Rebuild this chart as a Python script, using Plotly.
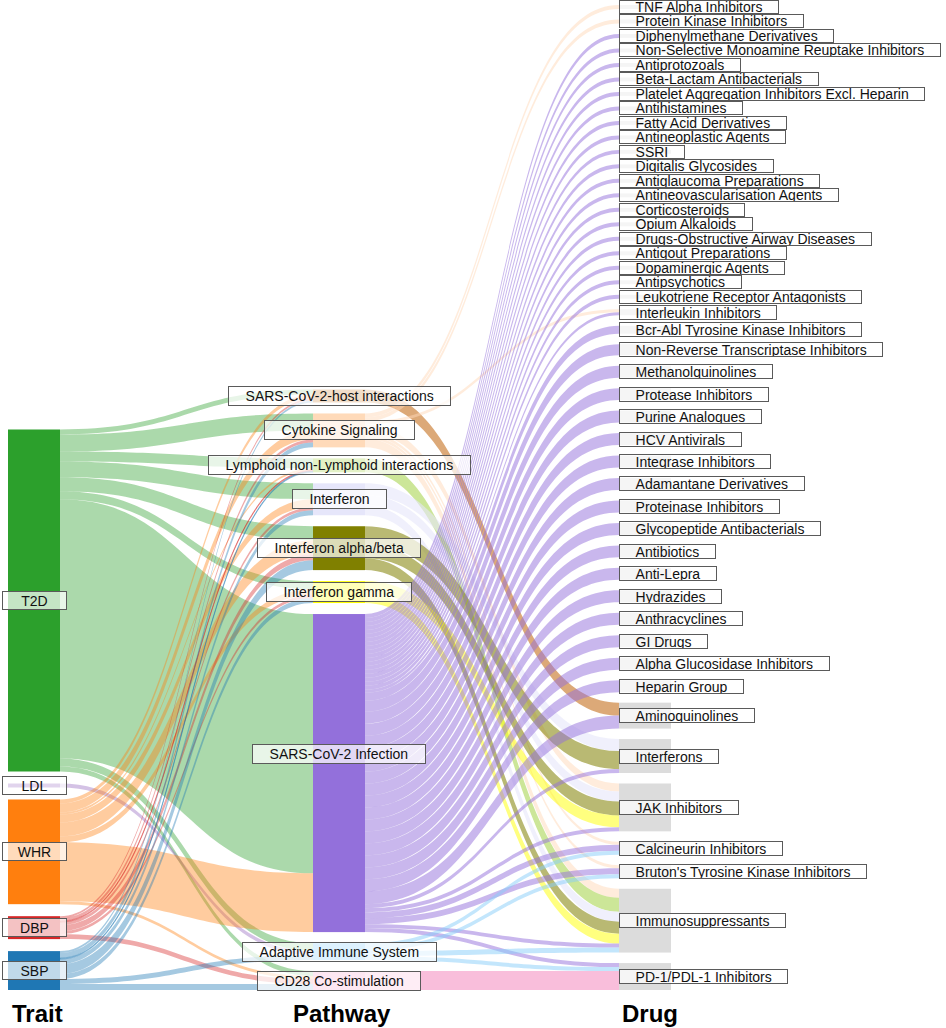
import plotly.graph_objects as go

# ---------------- data ----------------
traits = ["T2D", "LDL", "WHR", "DBP", "SBP"]
trait_colors = ["#2ca02c", "#9467bd", "#ff7f0e", "#d62728", "#1f77b4"]

pathways = [
    "SARS-CoV-2-host interactions",
    "Cytokine Signaling",
    "Lymphoid non-Lymphoid interactions",
    "Interferon",
    "Interferon alpha/beta",
    "Interferon gamma",
    "SARS-CoV-2 Infection",
    "Adaptive Immune System",
    "CD28 Co-stimulation",
]
pathway_colors = ["#cd853f", "#ffdab9", "#9acd32", "#e6e6fa", "#808000",
                  "#ffff00", "#9370db", "#87cefa", "#f7a8cf"]
pathway_link_alpha = [0.7, 0.5, 0.5, 0.6, 0.55, 0.5, 0.5, 0.5, 0.75]

drugs = [
    "TNF Alpha Inhibitors", "Protein Kinase Inhibitors", "Diphenylmethane Derivatives",
    "Non-Selective Monoamine Reuptake Inhibitors", "Antiprotozoals", "Beta-Lactam Antibacterials",
    "Platelet Aggregation Inhibitors Excl. Heparin", "Antihistamines", "Fatty Acid Derivatives",
    "Antineoplastic Agents", "SSRI", "Digitalis Glycosides", "Antiglaucoma Preparations",
    "Antineovascularisation Agents", "Corticosteroids", "Opium Alkaloids",
    "Drugs-Obstructive Airway Diseases", "Antigout Preparations", "Dopaminergic Agents",
    "Antipsychotics", "Leukotriene Receptor Antagonists", "Interleukin Inhibitors",
    "Bcr-Abl Tyrosine Kinase Inhibitors", "Non-Reverse Transcriptase Inhibitors",
    "Methanolquinolines", "Protease Inhibitors", "Purine Analogues", "HCV Antivirals",
    "Integrase Inhibitors", "Adamantane Derivatives", "Proteinase Inhibitors",
    "Glycopeptide Antibacterials", "Antibiotics", "Anti-Lepra", "Hydrazides", "Anthracyclines",
    "GI Drugs", "Alpha Glucosidase Inhibitors", "Heparin Group", "Aminoquinolines",
    "Interferons", "JAK Inhibitors", "Calcineurin Inhibitors",
    "Bruton's Tyrosine Kinase Inhibitors", "Immunosuppressants", "PD-1/PDL-1 Inhibitors",
]
drug_color = "#dcdcdc"

# trait -> pathway flows (same order as `pathways`)
t2d_flows = [5, 17, 10, 16, 14, 8, 260, 8, 5]
ldl_flows = [0, 0, 0, 0, 0, 0, 0, 4, 0]
whr_flows = [4, 9, 2, 8, 14, 6, 59, 0, 3]
dbp_flows = [2, 3, 1, 3, 6, 3, 0, 0, 5]
sbp_flows = [2, 5, 1, 5, 10, 5, 0, 5, 6]
trait_flows = [t2d_flows, ldl_flows, whr_flows, dbp_flows, sbp_flows]

# pathway -> drug flows
host_flows = {"Aminoquinolines": 13}
cytokine_flows = {"TNF Alpha Inhibitors": 4, "Protein Kinase Inhibitors": 4,
                  "Interleukin Inhibitors": 3, "JAK Inhibitors": 8,
                  "Calcineurin Inhibitors": 3, "Bruton's Tyrosine Kinase Inhibitors": 3,
                  "Immunosuppressants": 9}
lymphoid_flows = {"Immunosuppressants": 14}
interferon_flows = {"Interferons": 12, "JAK Inhibitors": 10, "Immunosuppressants": 10}
ifn_ab_flows = {"Interferons": 18, "JAK Inhibitors": 14, "Immunosuppressants": 12}
ifn_g_flows = {"JAK Inhibitors": 12, "Immunosuppressants": 10}
sars_infection_flows = {
    "Diphenylmethane Derivatives": 4, "Non-Selective Monoamine Reuptake Inhibitors": 4,
    "Antiprotozoals": 4, "Beta-Lactam Antibacterials": 4,
    "Platelet Aggregation Inhibitors Excl. Heparin": 4, "Antihistamines": 4,
    "Fatty Acid Derivatives": 4, "Antineoplastic Agents": 4, "SSRI": 4,
    "Digitalis Glycosides": 4, "Antiglaucoma Preparations": 4,
    "Antineovascularisation Agents": 4, "Corticosteroids": 4, "Opium Alkaloids": 4,
    "Drugs-Obstructive Airway Diseases": 4, "Antigout Preparations": 4,
    "Dopaminergic Agents": 4, "Antipsychotics": 4, "Leukotriene Receptor Antagonists": 4,
    "Interleukin Inhibitors": 3, "Bcr-Abl Tyrosine Kinase Inhibitors": 8,
    "Non-Reverse Transcriptase Inhibitors": 11, "Methanolquinolines": 12,
    "Protease Inhibitors": 12, "Purine Analogues": 12, "HCV Antivirals": 12,
    "Integrase Inhibitors": 12, "Adamantane Derivatives": 12, "Proteinase Inhibitors": 12,
    "Glycopeptide Antibacterials": 12, "Antibiotics": 12, "Anti-Lepra": 12,
    "Hydrazides": 12, "Anthracyclines": 12, "GI Drugs": 12,
    "Alpha Glucosidase Inhibitors": 12, "Heparin Group": 12, "Aminoquinolines": 13,
    "Interferons": 4, "JAK Inhibitors": 4, "Calcineurin Inhibitors": 6,
    "Bruton's Tyrosine Kinase Inhibitors": 6, "Immunosuppressants": 4,
    "PD-1/PDL-1 Inhibitors": 4,
}
adaptive_flows = {"Calcineurin Inhibitors": 4, "Bruton's Tyrosine Kinase Inhibitors": 4,
                  "Immunosuppressants": 5, "PD-1/PDL-1 Inhibitors": 4}
cd28_flows = {"PD-1/PDL-1 Inhibitors": 19}
pathway_flows = [host_flows, cytokine_flows, lymphoid_flows, interferon_flows, ifn_ab_flows,
                 ifn_g_flows, sars_infection_flows, adaptive_flows, cd28_flows]

column_titles = ["Trait", "Pathway", "Drug"]

# ---------------- layout constants ----------------
FIG_W, FIG_H = 946, 1028
SK_TOP, SK_BOTTOM = 5, 990
SK_H = SK_BOTTOM - SK_TOP
NODE_PAD = 10.5
NODE_THICK = 52
COL_X = [34, 339, 645]          # column centres in px
TRAIT_GAP, PATH_GAP = 12, 11
LABEL_SHIFT = {"SARS-CoV-2 Infection": -19}
FONT = "Arial, Liberation Sans, sans-serif"


def rgba(hex_color, a):
    h = hex_color.lstrip("#")
    r, g, b = int(h[0:2], 16), int(h[2:4], 16), int(h[4:6], 16)
    return f"rgba({r},{g},{b},{a})"


# ---------------- build nodes / links ----------------
nT, nP, nD = len(traits), len(pathways), len(drugs)
src, tgt, val, lcol = [], [], [], []
for ti, flows in enumerate(trait_flows):
    for pi, v in enumerate(flows):
        if v > 0:
            src.append(ti); tgt.append(nT + pi); val.append(v)
            lcol.append(rgba(trait_colors[ti], 0.4))
for pi, flows in enumerate(pathway_flows):
    for dname, v in flows.items():
        di = drugs.index(dname)
        src.append(nT + pi); tgt.append(nT + nP + di); val.append(v)
        lcol.append(rgba(pathway_colors[pi], pathway_link_alpha[pi]))

trait_tot = [sum(f) for f in trait_flows]
path_in = [sum(trait_flows[t][p] for t in range(nT)) for p in range(nP)]
path_out = [sum(f.values()) for f in pathway_flows]
path_tot = [max(a, b) for a, b in zip(path_in, path_out)]
drug_tot = [sum(f.get(d, 0) for f in pathway_flows) for d in drugs]

ky = (SK_H - (nD - 1) * NODE_PAD) / sum(drug_tot)


def stack(values, gap, bottom=True):
    hs = [v * ky for v in values]
    span = sum(hs) + gap * (len(hs) - 1)
    y = SK_H - span if bottom else 0.0
    centers = []
    for h in hs:
        centers.append(y + h / 2)
        y += h + gap
    return centers


trait_c = stack(trait_tot, TRAIT_GAP)
path_c = stack(path_tot, PATH_GAP)
drug_c = stack(drug_tot, NODE_PAD, bottom=False)

node_x = [COL_X[0] / FIG_W] * nT + [COL_X[1] / FIG_W] * nP + [COL_X[2] / FIG_W] * nD
node_y = [c / SK_H for c in trait_c + path_c + drug_c]
node_colors = trait_colors + pathway_colors + [drug_color] * nD

fig = go.Figure(go.Sankey(
    arrangement="fixed",
    domain=dict(x=[0, 1], y=[1 - SK_BOTTOM / FIG_H, 1 - SK_TOP / FIG_H]),
    node=dict(label=[""] * (nT + nP + nD), x=node_x, y=node_y, pad=NODE_PAD,
              thickness=NODE_THICK, color=node_colors, line=dict(width=0),
              customdata=traits + pathways + drugs, hovertemplate="%{customdata}<extra></extra>"),
    link=dict(source=src, target=tgt, value=val, color=lcol, hoverinfo="none"),
))

# ---------------- labels ----------------
NB = "\u00a0" * 4
ann = []
box = dict(bgcolor="rgba(255,255,255,0.72)", bordercolor="#5a5a5a", borderwidth=1,
           showarrow=False, xref="paper", yref="paper", yanchor="middle")


def py(c):
    return 1 - (SK_TOP + c) / FIG_H


for name, c in zip(traits, trait_c):
    ann.append(dict(text=name, x=(COL_X[0] + 0.5) / FIG_W, y=py(c), xanchor="center",
                    width=61, height=15, borderpad=1,
                    font=dict(family=FONT, size=14, color="#111"), **box))
for name, c in zip(pathways, path_c):
    ann.append(dict(text=NB + name + NB, x=COL_X[1] / FIG_W, y=py(c + LABEL_SHIFT.get(name, 0)),
                    xanchor="center", height=16, borderpad=1,
                    font=dict(family=FONT, size=14, color="#111"), **box))
for i, (name, c) in enumerate(zip(drugs, drug_c)):
    h = 12 if drug_tot[i] <= 5 else 13
    ann.append(dict(text=NB + name + NB, x=(COL_X[2] - NODE_THICK / 2) / FIG_W, y=py(c),
                    xanchor="left", height=h, borderpad=0,
                    font=dict(family=FONT, size=14, color="#111"), **box))

title_pos = [(10, "left"), (342, "center"), (620, "left")]
for t, (xp, anc) in zip(column_titles, title_pos):
    ann.append(dict(text=f"<b>{t}</b>", x=xp / FIG_W, y=1 - 1013 / FIG_H, xref="paper",
                    yref="paper", xanchor=anc, yanchor="middle", showarrow=False,
                    font=dict(family=FONT, size=24, color="#000")))

fig.update_layout(width=FIG_W, height=FIG_H, margin=dict(l=0, r=0, t=0, b=0),
                  paper_bgcolor="white", plot_bgcolor="white", annotations=ann,
                  font=dict(family=FONT))
fig.write_html("out.html", config={"displayModeBar": False},
               post_script="document.body.style.margin='0';")
